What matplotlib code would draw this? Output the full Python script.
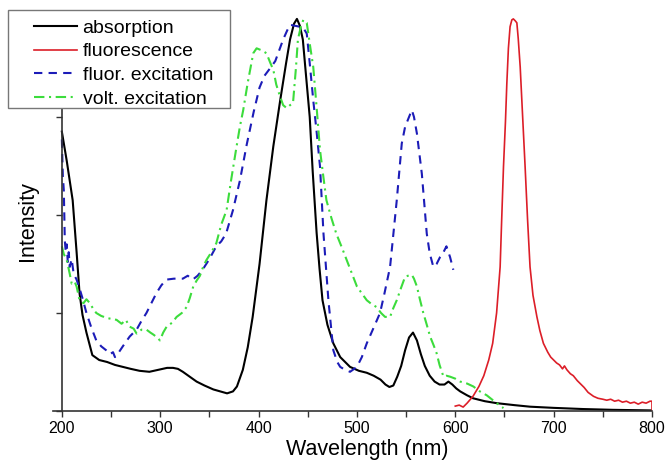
import numpy as np
import matplotlib
matplotlib.use("Agg")
import matplotlib.pyplot as plt
from matplotlib.legend_handler import HandlerLine2D
from matplotlib.patches import Rectangle

plt.rcParams['font.family'] = ['Liberation Sans', 'DejaVu Sans']

# ---- spectra (wavelength in nm, intensity in arbitrary units) ----
abs_wl = [200, 205, 211, 215, 218, 221, 225, 231, 238, 246, 254, 262, 270, 279, 289,
          298, 307, 313, 318, 323, 330, 337, 345, 354, 361, 368, 374, 378, 384, 389,
          394, 401, 408, 415, 422, 428, 432, 436, 439, 442, 445, 448, 452, 455, 459,
          462, 465, 470, 476, 483, 493, 502, 510, 517, 524, 529, 533, 537, 541, 545,
          549, 553, 557, 561, 565, 569, 574, 579, 584, 589, 593, 597, 601, 605, 612,
          618, 630, 642, 660, 676, 700, 730, 760, 800]
abs_int = [2.85, 2.55, 2.15, 1.62, 1.20, 0.98, 0.80, 0.57, 0.52, 0.50, 0.47, 0.45, 0.43, 0.41, 0.40,
           0.42, 0.44, 0.44, 0.43, 0.40, 0.35, 0.30, 0.26, 0.22, 0.20, 0.18, 0.20, 0.25, 0.42, 0.65,
           0.96, 1.50, 2.15, 2.70, 3.17, 3.55, 3.79, 3.95, 4.00, 3.93, 3.79, 3.45, 3.00, 2.45, 1.82,
           1.45, 1.13, 0.88, 0.69, 0.55, 0.45, 0.41, 0.39, 0.36, 0.32, 0.27, 0.245, 0.26, 0.35, 0.46,
           0.62, 0.75, 0.80, 0.72, 0.58, 0.46, 0.36, 0.30, 0.27, 0.27, 0.30, 0.27, 0.23, 0.20, 0.16,
           0.13, 0.10, 0.08, 0.06, 0.044, 0.032, 0.02, 0.012, 0.006]

fl_wl = [600, 604, 608, 612, 618, 624, 629, 634, 638, 642, 645.6, 647, 649, 651, 652.4,
         654, 655.7, 657.5, 659, 661, 662.6, 664, 666, 668, 671, 673.5, 676, 679, 683, 686,
         689.6, 694, 697, 700, 703, 706, 709, 711, 713.5, 717, 720, 724, 727, 731, 735,
         740.5, 745, 750, 754, 758, 762, 766, 770, 774, 778, 782, 786, 790, 794, 798, 800, 800]
fl_int = [0.05, 0.06, 0.04, 0.08, 0.15, 0.25, 0.36, 0.52, 0.69, 1.00, 1.47, 1.90, 2.49, 2.95, 3.34,
          3.70, 3.92, 3.99, 4.00, 3.98, 3.96, 3.80, 3.51, 3.10, 2.49, 1.95, 1.47, 1.18, 0.96, 0.82,
          0.69, 0.60, 0.55, 0.52, 0.49, 0.47, 0.43, 0.46, 0.42, 0.38, 0.36, 0.31, 0.28, 0.24, 0.19,
          0.15, 0.13, 0.12, 0.11, 0.12, 0.10, 0.11, 0.09, 0.10, 0.08, 0.09, 0.07, 0.09, 0.08, 0.10, 0.10, 0.0]

fex_wl = [200, 201, 202, 203, 204, 205, 206, 207, 208, 210, 212, 215, 218, 221, 225,
          230, 235, 240, 245, 249, 252, 254, 258, 262, 269, 276, 281, 286, 291, 296,
          301, 306, 314, 323, 328, 333, 338, 343, 350, 357, 362, 367, 374, 381, 388,
          395, 401, 406, 412, 417, 421, 425, 429, 432, 437, 442, 446, 449, 452, 455.6,
          459, 462.5, 466, 471, 476, 480, 483, 488, 493, 500, 505, 510, 517, 523.5, 528,
          533.7, 537, 540.5, 545.6, 549, 553, 555.8, 558, 561, 566, 571, 574, 577.7, 581, 584.5,
          588, 591, 594.7, 598]
fex_int = [2.77, 2.40, 2.25, 1.74, 1.62, 1.70, 1.52, 1.62, 1.47, 1.55, 1.40, 1.34, 1.25, 1.15, 1.00,
           0.85, 0.72, 0.66, 0.62, 0.58, 0.60, 0.55, 0.60, 0.66, 0.76, 0.83, 0.92, 1.00, 1.10, 1.20,
           1.28, 1.34, 1.35, 1.35, 1.38, 1.34, 1.38, 1.44, 1.55, 1.68, 1.73, 1.81, 2.05, 2.35, 2.72,
           3.05, 3.30, 3.42, 3.50, 3.57, 3.68, 3.79, 3.88, 3.94, 3.93, 3.92, 3.90, 3.85, 3.55, 3.17,
           2.85, 2.49, 1.81, 1.13, 0.62, 0.50, 0.45, 0.42, 0.40, 0.45, 0.55, 0.69, 0.85, 1.00, 1.20,
           1.47, 1.80, 2.15, 2.73, 2.90, 3.00, 3.07, 3.00, 2.83, 2.42, 1.81, 1.61, 1.47, 1.50, 1.57,
           1.62, 1.68, 1.57, 1.44]

vex_wl = [200, 202, 205, 208, 210, 213, 215, 218, 222, 225, 228.5, 232, 235, 240, 245.5,
          250, 255.6, 260.7, 265, 269, 273, 276, 281, 286, 290, 293, 297, 299.7, 303, 306.5,
          312, 316.7, 322, 326.8, 330, 333.6, 337, 340.4, 344, 347, 352, 357, 362, 367.5, 372,
          377, 381, 384.4, 389, 394.6, 398, 403, 408, 412, 415, 418, 421.8, 425, 428.6, 432,
          435, 438, 440, 443, 445.5, 449, 452, 455.6, 459, 462.5, 466, 469, 474, 479, 485,
          489.6, 495, 500, 505, 510, 515, 520, 524.5, 528.6, 533.7, 537, 540.5, 545, 549, 552,
          555.8, 558, 561, 564, 567.5, 571, 574.4, 578, 581, 584, 588, 591, 594.7, 600, 605,
          612, 618.4, 625, 632, 637, 642, 646, 649]
vex_int = [1.68, 1.60, 1.54, 1.40, 1.30, 1.32, 1.27, 1.13, 1.10, 1.14, 1.10, 1.04, 1.00, 0.97, 0.95,
           0.94, 0.93, 0.89, 0.93, 0.86, 0.84, 0.79, 0.83, 0.83, 0.80, 0.78, 0.75, 0.72, 0.80, 0.86,
           0.90, 0.96, 1.00, 1.06, 1.15, 1.27, 1.33, 1.38, 1.48, 1.54, 1.62, 1.71, 1.90, 2.05, 2.35,
           2.66, 2.90, 3.07, 3.35, 3.65, 3.70, 3.68, 3.65, 3.55, 3.48, 3.33, 3.21, 3.12, 3.09, 3.12,
           3.14, 3.50, 3.79, 3.92, 3.99, 3.96, 3.75, 3.51, 3.10, 2.66, 2.38, 2.15, 1.97, 1.81, 1.66,
           1.54, 1.40, 1.27, 1.20, 1.13, 1.09, 1.06, 1.00, 0.96, 0.96, 1.05, 1.13, 1.26, 1.37, 1.38,
           1.39, 1.35, 1.27, 1.14, 1.00, 0.88, 0.76, 0.67, 0.59, 0.47, 0.35, 0.36, 0.35, 0.33, 0.30,
           0.28, 0.25, 0.20, 0.16, 0.12, 0.08, 0.05, 0.03]

series_labels = ["absorption", "fluorescence", "fluor. excitation", "volt. excitation"]
x_ticks = [200, 300, 400, 500, 600, 700, 800]

W, H = 668, 461
fig = plt.figure(figsize=(W / 100, H / 100), dpi=100)
ax = fig.add_axes([53 / W, 50 / H, 599 / W, 397 / H])

c_abs, c_fl, c_fex, c_vex = "black", "#dc1e28", "#1c1cb8", "#3cdc3c"
l1, = ax.plot(abs_wl, abs_int, color=c_abs, lw=1.5, label=series_labels[0])
l2, = ax.plot(fl_wl, fl_int, color=c_fl, lw=1.2, label=series_labels[1])
l3, = ax.plot(fex_wl, fex_int, color=c_fex, lw=1.5, dashes=(4, 3), label=series_labels[2])
l4, = ax.plot(vex_wl, vex_int, color=c_vex, lw=1.5, dashes=(5, 2.2, 1, 2.2), label=series_labels[3])

ax.set_xlim(191, 800)
ax.set_ylim(0, 4.05)
ax.spines['left'].set_position(('data', 200))
for s in ('top', 'right'):
    ax.spines[s].set_visible(False)
for s in ('left', 'bottom'):
    ax.spines[s].set_linewidth(1.2)
    ax.spines[s].set_color('#333333')

ax.set_xticks(x_ticks)
ax.set_xticks([250, 350, 450, 550, 650, 750], minor=True)
ax.set_yticks([0, 1, 2, 3, 4])
ax.set_yticklabels([])
ax.tick_params(axis='both', which='both', direction='out', length=4, width=1.0,
               color='#333333', labelsize=11.5, pad=3)

ax.set_xlabel("Wavelength (nm)", fontsize=15.5)
ax.xaxis.set_label_coords(0.525, -0.07)
ax.set_ylabel("Intensity", fontsize=15.5)
ax.yaxis.set_label_coords(-0.025, 0.479)


class OffsetLineHandler(HandlerLine2D):
    # legend line sample drawn on the right part of the handle box
    def get_xdata(self, legend, xdescent, ydescent, width, height, fontsize):
        xd = np.array([-xdescent + 0.32 * width, -xdescent + width])
        return xd, xd


# legend frame as a figure rectangle, legend entries on top of it
frame = Rectangle((8 / W, 1 - 108 / H), 222 / W, 98 / H, transform=fig.transFigure,
                  facecolor='white', edgecolor='#777777', lw=1.0, zorder=2)
fig.patches.append(frame)
leg = fig.legend(handles=[l1, l2, l3, l4], loc='upper left',
                 bbox_to_anchor=(13 / W, 1 - 19 / H), bbox_transform=fig.transFigure,
                 frameon=False, fontsize=14, borderpad=0, borderaxespad=0,
                 labelspacing=0.32, handlelength=3.3, handletextpad=0.28,
                 handler_map={plt.Line2D: OffsetLineHandler()})
leg.set_zorder(5)

fig.savefig("out.png", dpi=100)
